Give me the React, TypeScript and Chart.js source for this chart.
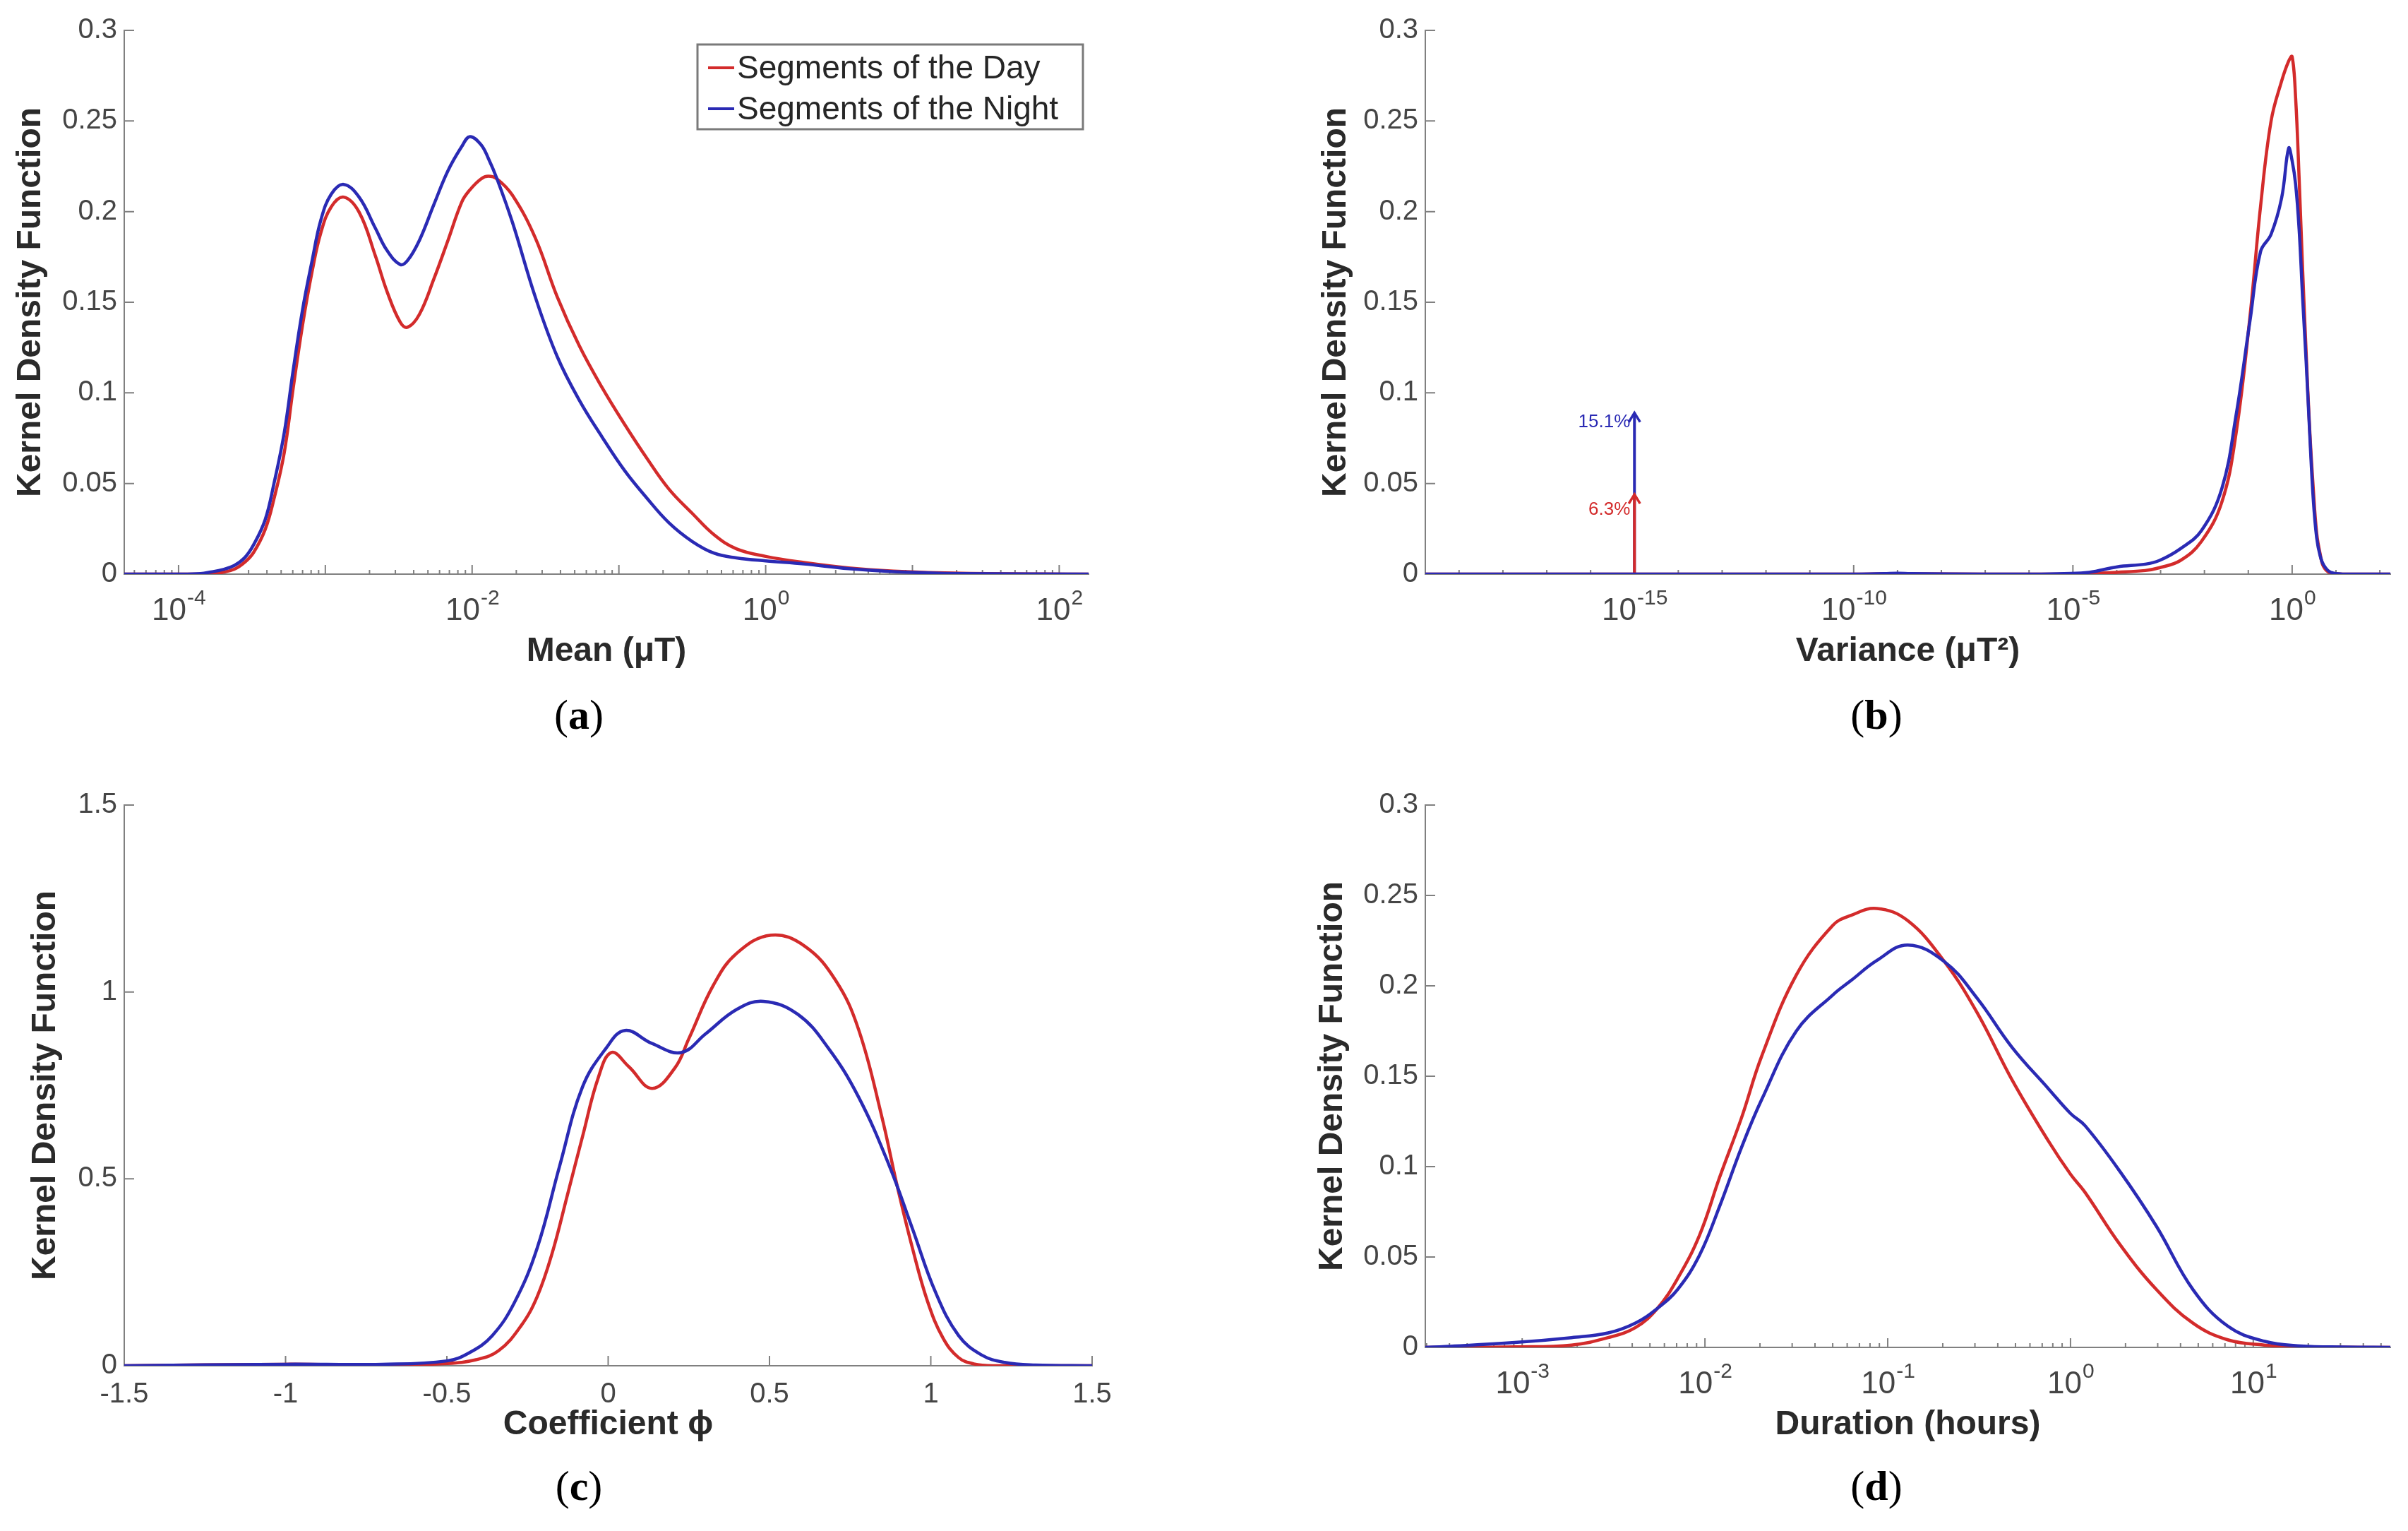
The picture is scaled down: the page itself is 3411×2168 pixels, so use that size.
import { useEffect, useRef } from 'react';
import { Chart, registerables } from 'chart.js';
import type { ChartConfiguration, Plugin } from 'chart.js';

Chart.register(...registerables);

const SANS = '"Liberation Sans", Arial, Helvetica, sans-serif';
const SERIF = '"Liberation Serif", "Times New Roman", serif';
const AXIS_COLOR = '#808080';
const TICK_TEXT = '#454545';
const LABEL_TEXT = '#2a2a2a';

const seriesLabels = ['Segments of the Day', 'Segments of the Night'];
const seriesColors = ['#d32b2b', '#2a2ab4'];
const yAxisTitle = 'Kernel Density Function';

// (a) mean, x read as powers of ten (uT)
const meanExp = [-4.37, -4.0, -3.85, -3.78, -3.7, -3.62, -3.55, -3.49, -3.41, -3.35, -3.28, -3.22, -3.155, -3.09, -3.03, -2.96, -2.875, -2.77, -2.66, -2.58, -2.49, -2.44, -2.36, -2.26, -2.165, -2.07, -2.015, -1.94, -1.89, -1.83, -1.725, -1.57, -1.42, -1.27, -1.115, -0.96, -0.81, -0.66, -0.5, -0.35, -0.2, 0, 0.26, 0.565, 0.87, 1.33, 2.2];
const meanDay = [0, 0, 0, 0.0003, 0.001, 0.0027, 0.0065, 0.0118, 0.0246, 0.0415, 0.067, 0.102, 0.1375, 0.167, 0.1885, 0.2026, 0.208, 0.1997, 0.1758, 0.156, 0.139, 0.1362, 0.1432, 0.163, 0.184, 0.2054, 0.212, 0.218, 0.2195, 0.218, 0.209, 0.1856, 0.153, 0.126, 0.103, 0.0825, 0.064, 0.047, 0.0335, 0.0216, 0.014, 0.0098, 0.0064, 0.0034, 0.0017, 0.0005, 0];
const meanNight = [0, 0, 0.0003, 0.0012, 0.0025, 0.0048, 0.009, 0.016, 0.03, 0.05, 0.078, 0.112, 0.146, 0.173, 0.1955, 0.2096, 0.215, 0.208, 0.191, 0.1786, 0.1708, 0.173, 0.184, 0.204, 0.2225, 0.236, 0.2414, 0.237, 0.2295, 0.218, 0.194, 0.153, 0.12, 0.096, 0.0757, 0.057, 0.042, 0.0284, 0.018, 0.0115, 0.009, 0.0073, 0.0056, 0.003, 0.0014, 0.0003, 0];
const meanTickExp = [-4, -2, 0, 2];

// (b) variance, x read as powers of ten (uT^2)
const varianceExp = [-19.77, -15, -12, -10, -9.3, -9, -8.7, -7, -6, -5.2, -4.63, -3.99, -3.35, -3.03, -2.55, -2.07, -1.6, -1.28, -0.96, -0.72, -0.48, -0.24, -0.08, 0, 0.08, 0.16, 0.24, 0.32, 0.4, 0.48, 0.56, 0.64, 0.72, 0.88, 1.2, 2.24];
const varianceDay = [0, 0, 0, 0, 0.0002, 0.0003, 0.0002, 0, 0, 0, 0.0003, 0.001, 0.002, 0.0035, 0.0075, 0.018, 0.04, 0.0775, 0.1425, 0.203, 0.25, 0.272, 0.283, 0.2855, 0.2625, 0.218, 0.1675, 0.122, 0.08, 0.048, 0.0225, 0.011, 0.004, 0.0005, 0, 0];
const varianceNight = [0, 0, 0, 0, 0.0003, 0.0005, 0.0003, 0, 0, 0.0003, 0.001, 0.004, 0.0055, 0.0075, 0.014, 0.024, 0.0475, 0.0875, 0.14, 0.178, 0.1875, 0.2075, 0.235, 0.228, 0.215, 0.19, 0.152, 0.117, 0.078, 0.042, 0.02, 0.01, 0.005, 0.001, 0, 0];
const varianceTickExp = [-15, -10, -5, 0];
// zero-variance share, drawn as arrows at 1e-15 (day, night)
const zeroVarianceExp = -15;
const zeroVarianceHeight = [0.044, 0.089];
const zeroVarianceText = ['6.3%', '15.1%'];
const zeroVarianceTextY = [0.0355, 0.0838];

// (c) coefficient phi
const coeffDayX = [-1.5, -1.0, -0.7, -0.5, -0.41, -0.34, -0.27, -0.22, -0.174, -0.126, -0.079, -0.031, 0.01, 0.064, 0.136, 0.207, 0.25, 0.326, 0.398, 0.505, 0.61, 0.705, 0.776, 0.848, 0.895, 0.943, 0.99, 1.038, 1.086, 1.133, 1.2, 1.5];
const coeffDayY = [0, 0.004, 0.002, 0.006, 0.016, 0.04, 0.107, 0.185, 0.3, 0.458, 0.615, 0.77, 0.838, 0.8, 0.742, 0.797, 0.875, 1.018, 1.103, 1.152, 1.122, 1.031, 0.9, 0.667, 0.484, 0.315, 0.172, 0.074, 0.022, 0.005, 0, 0];
const coeffNightX = [-1.5, -1.0, -0.7, -0.5, -0.43, -0.36, -0.29, -0.22, -0.15, -0.08, -0.007, 0.052, 0.136, 0.226, 0.302, 0.398, 0.481, 0.588, 0.683, 0.776, 0.871, 0.943, 1.014, 1.086, 1.157, 1.229, 1.324, 1.5];
const coeffNightY = [0, 0.004, 0.004, 0.013, 0.035, 0.08, 0.17, 0.315, 0.536, 0.745, 0.849, 0.897, 0.862, 0.838, 0.888, 0.953, 0.975, 0.94, 0.849, 0.719, 0.536, 0.367, 0.198, 0.081, 0.029, 0.009, 0.002, 0];

// (d) duration, x read as powers of ten (hours)
const durationExp = [-3.53, -3.42, -3.04, -2.73, -2.53, -2.38, -2.26, -2.15, -2.03, -1.92, -1.8, -1.69, -1.5, -1.3, -1.2, -1.06, -0.89, -0.69, -0.51, -0.32, -0.12, 0, 0.08, 0.27, 0.47, 0.67, 0.86, 1.06, 1.26, 1.5, 1.75];
const durationDay = [0, 0, 0.0003, 0.0013, 0.0054, 0.011, 0.0216, 0.038, 0.062, 0.094, 0.127, 0.161, 0.206, 0.2335, 0.239, 0.2428, 0.236, 0.2134, 0.185, 0.148, 0.114, 0.0958, 0.0857, 0.057, 0.032, 0.0134, 0.0042, 0.0013, 0.0003, 0.0001, 0];
const durationNight = [0, 0.0005, 0.0027, 0.0054, 0.008, 0.0135, 0.0216, 0.032, 0.051, 0.078, 0.1106, 0.137, 0.175, 0.195, 0.203, 0.214, 0.2226, 0.2134, 0.193, 0.166, 0.143, 0.1294, 0.1226, 0.0974, 0.067, 0.032, 0.0118, 0.0034, 0.0008, 0.0002, 0];
const durationTickExp = [-3, -2, -1, 0, 1];

type Curve = { x: number[]; y: number[] };

type Spec = {
  box: { left: number; top: number; width: number; height: number };
  pad: { top: number; right: number };
  yAxisWidth: number;
  xAxisHeight: number;
  yTitlePad: number;
  xLog: boolean;
  xMin: number;
  xMax: number;
  yMax: number;
  yStep: number;
  xTitle: string;
  xLabelExp?: number[];
  minorPerDecade?: boolean;
  curves: Curve[];
  legend?: boolean;
  spikes?: boolean;
};

const toPoints = (xs: number[], ys: number[], log: boolean) =>
  xs.map((x, i) => ({ x: log ? Math.pow(10, x) : x, y: ys[i] }));

// matlab style tick text: 0.3, 0.25, 1, -1.5
const plainNumber = (v: number | string) => String(+Number(v).toFixed(3));

// tick positions for a log axis: 1..9 x 10^k, or only decades
function logTicks(spec: Spec) {
  const out: { v: number; major: boolean }[] = [];
  const lo = Math.floor(Math.log10(spec.xMin));
  const hi = Math.ceil(Math.log10(spec.xMax));
  const labels = spec.xLabelExp || [];
  for (let k = lo; k <= hi; k++) {
    const mults = spec.minorPerDecade ? [1, 2, 3, 4, 5, 6, 7, 8, 9] : [1];
    mults.forEach((m) => {
      const v = m * Math.pow(10, k);
      if (v < spec.xMin || v > spec.xMax) return;
      out.push({ v, major: m === 1 && (spec.minorPerDecade || labels.includes(k)) });
    });
  }
  return out;
}

const tickMarks = (spec: Spec): Plugin<'line'> => ({
  id: 'tickMarks',
  beforeDatasetsDraw(chart) {
    const { ctx, chartArea: a, scales } = chart;
    const xs = scales.x;
    const ys = scales.y;
    ctx.save();
    ctx.strokeStyle = AXIS_COLOR;
    ctx.lineWidth = 2;
    ctx.beginPath();
    ys.ticks.forEach((t) => {
      const py = ys.getPixelForValue(t.value);
      ctx.moveTo(a.left, py);
      ctx.lineTo(a.left + 14, py);
    });
    if (spec.xLog) {
      logTicks(spec).forEach(({ v, major }) => {
        const px = xs.getPixelForValue(v);
        ctx.moveTo(px, a.bottom);
        ctx.lineTo(px, a.bottom - (major ? 13 : 6));
      });
    } else {
      xs.ticks.forEach((t) => {
        const px = xs.getPixelForValue(t.value);
        ctx.moveTo(px, a.bottom);
        ctx.lineTo(px, a.bottom - 14);
      });
    }
    ctx.stroke();
    ctx.restore();
  },
});

// "10" with a raised exponent under each labelled decade
const logLabels = (spec: Spec): Plugin<'line'> => ({
  id: 'logLabels',
  afterDraw(chart) {
    const { ctx, chartArea: a, scales } = chart;
    ctx.save();
    ctx.fillStyle = TICK_TEXT;
    ctx.textAlign = 'left';
    ctx.textBaseline = 'alphabetic';
    (spec.xLabelExp || []).forEach((e) => {
      const px = scales.x.getPixelForValue(Math.pow(10, e));
      const sup = String(e);
      ctx.font = `44px ${SANS}`;
      const wb = ctx.measureText('10').width;
      ctx.font = `30px ${SANS}`;
      const ws = ctx.measureText(sup).width;
      const start = px - (wb + ws) / 2;
      const baseY = a.bottom + 65;
      ctx.font = `44px ${SANS}`;
      ctx.fillText('10', start, baseY);
      ctx.font = `30px ${SANS}`;
      ctx.fillText(sup, start + wb + 1, baseY - 22);
    });
    ctx.restore();
  },
});

const legendBox: Plugin<'line'> = {
  id: 'legendBox',
  afterDraw(chart) {
    const { ctx, chartArea: a } = chart;
    const w = 546;
    const h = 120;
    const left = a.right - 8 - w;
    const top = a.top + 20;
    ctx.save();
    ctx.fillStyle = '#ffffff';
    ctx.fillRect(left, top, w, h);
    ctx.strokeStyle = '#7a7a7a';
    ctx.lineWidth = 3;
    ctx.strokeRect(left, top, w, h);
    ctx.font = `46px ${SANS}`;
    ctx.textBaseline = 'middle';
    ctx.textAlign = 'left';
    chart.data.datasets.slice(0, 2).forEach((ds, i) => {
      const y = top + 33 + i * 58;
      ctx.strokeStyle = ds.borderColor as string;
      ctx.lineWidth = 4;
      ctx.beginPath();
      ctx.moveTo(left + 15, y);
      ctx.lineTo(left + 52, y);
      ctx.stroke();
      ctx.fillStyle = '#262626';
      ctx.fillText(ds.label as string, left + 56, y + 2);
    });
    ctx.restore();
  },
};

// arrow heads and percentages for the zero-variance spikes
const spikeHeads: Plugin<'line'> = {
  id: 'spikeHeads',
  afterDatasetsDraw(chart) {
    const { ctx, scales } = chart;
    ctx.save();
    [1, 0].forEach((i) => {
      const meta = chart.getDatasetMeta(2 + i);
      const tip = meta.data[1];
      if (!tip) return;
      ctx.strokeStyle = seriesColors[i];
      ctx.lineWidth = 3.5;
      ctx.beginPath();
      ctx.moveTo(tip.x - 8, tip.y + 13);
      ctx.lineTo(tip.x, tip.y);
      ctx.lineTo(tip.x + 8, tip.y + 13);
      ctx.stroke();
      ctx.fillStyle = seriesColors[i];
      ctx.font = `26px ${SANS}`;
      ctx.textAlign = 'right';
      ctx.textBaseline = 'middle';
      ctx.fillText(zeroVarianceText[i], tip.x - 6, scales.y.getPixelForValue(zeroVarianceTextY[i]));
    });
    ctx.restore();
  },
};

function buildConfig(spec: Spec): ChartConfiguration<'line'> {
  const datasets: any[] = spec.curves.map((c, i) => ({
    label: seriesLabels[i],
    data: toPoints(c.x, c.y, spec.xLog),
    borderColor: seriesColors[i],
    borderWidth: 4.5,
    pointRadius: 0,
    fill: false,
    tension: 0.4,
    order: 2 - i,
  }));
  if (spec.spikes) {
    zeroVarianceHeight.forEach((h, i) => {
      const x = Math.pow(10, zeroVarianceExp);
      datasets.push({
        label: zeroVarianceText[i],
        data: [{ x, y: 0 }, { x, y: h }],
        borderColor: seriesColors[i],
        borderWidth: 4,
        pointRadius: 0,
        fill: false,
        order: 3 + i,
      });
    });
  }
  const plugins: Plugin<'line'>[] = [tickMarks(spec)];
  if (spec.xLog) plugins.push(logLabels(spec));
  if (spec.legend) plugins.push(legendBox);
  if (spec.spikes) plugins.push(spikeHeads);

  const tickFont = { family: SANS, size: 40 };
  return {
    type: 'line',
    data: { datasets },
    plugins,
    options: {
      animation: false,
      responsive: false,
      events: [],
      layout: { padding: { top: spec.pad.top, right: spec.pad.right, left: 0, bottom: 0 } },
      plugins: { legend: { display: false }, tooltip: { enabled: false } },
      scales: {
        x: {
          type: spec.xLog ? 'logarithmic' : 'linear',
          min: spec.xMin,
          max: spec.xMax,
          grid: { display: false, drawTicks: false },
          border: { display: true, color: AXIS_COLOR, width: 2 },
          ticks: spec.xLog
            ? { display: false }
            : {
                stepSize: 0.5,
                font: tickFont,
                color: TICK_TEXT,
                padding: 17,
                maxRotation: 0,
                autoSkip: false,
                callback: plainNumber,
              },
          title: {
            display: true,
            text: spec.xTitle,
            font: { family: SANS, size: 48, weight: 'bold' },
            color: LABEL_TEXT,
            padding: 0,
          },
          afterFit: (s: any) => {
            s.height = spec.xAxisHeight;
          },
        } as any,
        y: {
          type: 'linear',
          min: 0,
          max: spec.yMax,
          grid: { display: false, drawTicks: false },
          border: { display: true, color: AXIS_COLOR, width: 2 },
          ticks: { stepSize: spec.yStep, font: tickFont, color: TICK_TEXT, padding: 10, callback: plainNumber },
          title: {
            display: true,
            text: yAxisTitle,
            font: { family: SANS, size: 48, weight: 'bold' },
            color: LABEL_TEXT,
            padding: { top: spec.yTitlePad, bottom: 0 },
          },
          afterFit: (s: any) => {
            s.width = spec.yAxisWidth;
          },
        },
      },
    },
  };
}

const specA: Spec = {
  box: { left: 0, top: 0, width: 1705, height: 952 },
  pad: { top: 43, right: 163 },
  yAxisWidth: 176,
  xAxisHeight: 139,
  yTitlePad: 15,
  xLog: true,
  xMin: Math.pow(10, -4.37),
  xMax: Math.pow(10, 2.2),
  yMax: 0.3,
  yStep: 0.05,
  xTitle: 'Mean (μT)',
  xLabelExp: meanTickExp,
  minorPerDecade: true,
  curves: [
    { x: meanExp, y: meanDay },
    { x: meanExp, y: meanNight },
  ],
  legend: true,
};

const specB: Spec = {
  box: { left: 1850, top: 0, width: 1561, height: 952 },
  pad: { top: 43, right: 25 },
  yAxisWidth: 169,
  xAxisHeight: 139,
  yTitlePad: 14,
  xLog: true,
  xMin: Math.pow(10, -19.77),
  xMax: Math.pow(10, 2.24),
  yMax: 0.3,
  yStep: 0.05,
  xTitle: 'Variance (μT²)',
  xLabelExp: varianceTickExp,
  minorPerDecade: false,
  curves: [
    { x: varianceExp, y: varianceDay },
    { x: varianceExp, y: varianceNight },
  ],
  spikes: true,
};

const specC: Spec = {
  box: { left: 0, top: 1000, width: 1705, height: 1047 },
  pad: { top: 140, right: 158 },
  yAxisWidth: 176,
  xAxisHeight: 113,
  yTitlePad: 36,
  xLog: false,
  xMin: -1.5,
  xMax: 1.5,
  yMax: 1.5,
  yStep: 0.5,
  xTitle: 'Coefficient ϕ',
  curves: [
    { x: coeffDayX, y: coeffDayY },
    { x: coeffNightX, y: coeffNightY },
  ],
};

const specD: Spec = {
  box: { left: 1850, top: 1000, width: 1561, height: 1047 },
  pad: { top: 140, right: 25 },
  yAxisWidth: 169,
  xAxisHeight: 139,
  yTitlePad: 9,
  xLog: true,
  xMin: Math.pow(10, -3.53),
  xMax: Math.pow(10, 1.75),
  yMax: 0.3,
  yStep: 0.05,
  xTitle: 'Duration (hours)',
  xLabelExp: durationTickExp,
  minorPerDecade: true,
  curves: [
    { x: durationExp, y: durationDay },
    { x: durationExp, y: durationNight },
  ],
};

const captions = [
  { letter: 'a', x: 820, y: 1018 },
  { letter: 'b', x: 2658, y: 1018 },
  { letter: 'c', x: 820, y: 2110 },
  { letter: 'd', x: 2658, y: 2110 },
];

function Panel({ spec }: { spec: Spec }) {
  const canvasRef = useRef<HTMLCanvasElement | null>(null);

  useEffect(() => {
    if (!canvasRef.current) return;
    const chart = new Chart(canvasRef.current, buildConfig(spec));
    return () => {
      chart.destroy();
    };
  }, [spec]);

  const { left, top, width, height } = spec.box;
  return (
    <canvas
      ref={canvasRef}
      width={width}
      height={height}
      style={{ position: 'absolute', left, top, width, height }}
    />
  );
}

export default function App() {
  return (
    <div
      style={{
        position: 'absolute',
        left: 0,
        top: 0,
        width: 3411,
        height: 2168,
        overflow: 'hidden',
        background: '#ffffff',
      }}
    >
      <Panel spec={specA} />
      <Panel spec={specB} />
      <Panel spec={specC} />
      <Panel spec={specD} />
      {captions.map((c) => (
        <div
          key={c.letter}
          style={{
            position: 'absolute',
            left: c.x - 100,
            top: c.y - 46,
            width: 200,
            height: 80,
            lineHeight: '80px',
            textAlign: 'center',
            fontFamily: SERIF,
            fontSize: 60,
            color: '#000',
          }}
        >
          (<b>{c.letter}</b>)
        </div>
      ))}
    </div>
  );
}
